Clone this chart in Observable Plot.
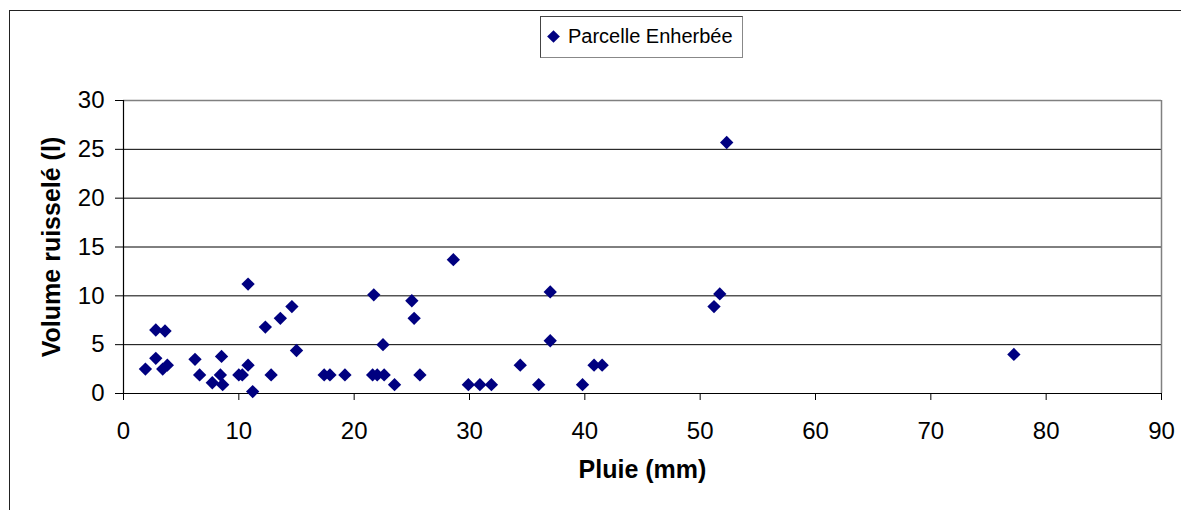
<!DOCTYPE html>
<html>
<head>
<meta charset="utf-8">
<script src="https://cdn.jsdelivr.net/npm/d3@7"></script>
<script src="https://cdn.jsdelivr.net/npm/@observablehq/plot@0.6"></script>
<style>
  html, body { margin: 0; padding: 0; background: #fff; overflow: hidden; }
  #wrap { position: relative; width: 1181px; height: 510px; overflow: hidden; font-family: "Liberation Sans", Arial, sans-serif; }
  #frame { position: absolute; left: 9px; top: 10px; width: 1300px; height: 700px; border: 1px solid #222; box-sizing: border-box; }
  #chart { position: absolute; left: 0; top: 0; }
  #legend { position: absolute; left: 540px; top: 16px; width: 203px; height: 42px; box-sizing: border-box;
            border: 1px solid #444; border-right-color: #888; border-bottom-color: #888; background: #fff;
            font-size: 20px; color: #000; }
  #legend .sym { position: absolute; left: 8px; top: 15px; width: 9px; height: 9px; background: #000080; transform: rotate(45deg); }
  #legend .lab { position: absolute; left: 27px; top: 8px; white-space: nowrap; }
</style>
</head>
<body>
<div id="wrap">
  <div id="frame"></div>
  <div id="chart"></div>
  <div id="legend"><div class="sym"></div><div class="lab">Parcelle Enherbée</div></div>
</div>
<script>
const seriesName = "Parcelle Enherbée";
const pluie = [1.9,2.8,3.6,2.8,3.4,3.8,6.2,6.6,7.7,8.5,8.4,8.6,10.0,10.3,10.8,10.8,11.2,12.3,12.8,13.6,14.6,15.0,17.4,17.9,19.2,21.7,21.6,22.0,22.6,22.5,23.5,25.0,25.2,25.7,28.6,29.9,30.9,31.9,34.4,36.0,37.0,37.0,39.8,40.8,41.5,51.2,51.7,52.3,77.2];
const volume = [2.5,6.5,6.4,3.6,2.5,2.9,3.5,1.9,1.1,3.8,1.9,0.9,1.9,1.9,11.2,2.9,0.2,6.8,1.9,7.7,8.9,4.4,1.9,1.9,1.9,10.1,1.9,1.9,1.9,5.0,0.9,9.5,7.7,1.9,13.7,0.9,0.9,0.9,2.9,0.9,10.4,5.4,0.9,2.9,2.9,8.9,10.2,25.7,4.0];
const xTicks = [0,10,20,30,40,50,60,70,80,90];
const yTicks = [0,5,10,15,20,25,30];
const xTitle = "Pluie (mm)";
const yTitle = "Volume ruisselé (l)";

const data = pluie.map((p, i) => ({pluie: p, volume: volume[i]}));

const chart = Plot.plot({
  width: 1181,
  height: 510,
  marginLeft: 123,
  marginRight: 20,
  marginTop: 100,
  marginBottom: 117,
  style: {fontFamily: "'Liberation Sans', Arial, sans-serif", background: "transparent", color: "#000"},
  x: {domain: [0, 90]},
  y: {domain: [0, 30]},
  marks: [
    Plot.ruleY(yTicks.filter(d => d > 0 && d < 30), {stroke: "#000", strokeWidth: 1}),
    Plot.ruleY([30], {stroke: "#808080", strokeWidth: 1.5}),
    Plot.ruleX([90], {stroke: "#808080", strokeWidth: 1.5}),
    Plot.ruleX([0], {stroke: "#000", strokeWidth: 1.2}),
    Plot.ruleY([0], {stroke: "#000", strokeWidth: 1.2}),
    Plot.axisX({ticks: xTicks, tickSize: 7, tickPadding: 21, fontSize: 24, label: null, stroke: "#000"}),
    Plot.axisY({ticks: yTicks, tickSize: 8, tickPadding: 11, fontSize: 24, label: null, stroke: "#000"}),
    Plot.dot(data, {x: "pluie", y: "volume", symbol: "diamond2", r: 6, fill: "#000080", stroke: "none"}),
    Plot.text([xTitle], {frameAnchor: "bottom", dy: 84, fontSize: 25, fontWeight: "bold", fill: "#000", textAnchor: "middle"}),
    Plot.text([yTitle], {frameAnchor: "left", dx: -72, rotate: -90, fontSize: 25, fontWeight: "bold", fill: "#000", textAnchor: "middle"})
  ]
});
document.getElementById("chart").appendChild(chart);
</script>
</body>
</html>
